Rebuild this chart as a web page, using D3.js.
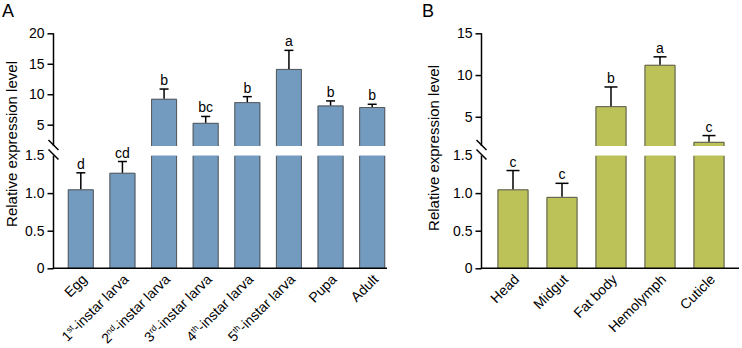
<!DOCTYPE html>
<html><head><meta charset="utf-8">
<script src="https://cdn.jsdelivr.net/npm/d3@7"></script>
<style>body{margin:0;background:#fff}svg{display:block}text{font-family:Arial,"Liberation Sans",sans-serif;fill:#000}</style>
</head><body>
<svg id="c" width="742" height="348"></svg>
<script>
// ---- data ----
const catsA = ["Egg","1st-instar larva","2nd-instar larva","3rd-instar larva","4th-instar larva","5th-instar larva","Pupa","Adult"];
const meanA = [1.05, 1.27, 9.25, 5.3, 8.7, 14.15, 8.15, 7.9];
const errA  = [0.22, 0.15, 1.6, 1.05, 0.9, 3.05, 0.75, 0.45];
const sigA  = ["d","cd","b","bc","b","a","b","b"];
const catsB = ["Head","Midgut","Fat body","Hemolymph","Cuticle"];
const meanB = [1.05, 0.95, 6.27, 11.23, 2.0];
const errB  = [0.25, 0.18, 2.3, 0.95, 0.75];
const sigB  = ["c","c","b","a","c"];
const lowTicks = [0, 0.5, 1.0, 1.5];
const upTicksA = [5, 10, 15, 20];
const upTicksB = [5, 10, 15];
const breakAt = 1.5;
const yTitle = "Relative expression level";

const svg = d3.select("#c");

function panel(o){
  const g = svg.append("g");
  const yLow = d3.scaleLinear().domain([0, breakAt]).range([268.3, 155.5]);
  const yUp = d3.scaleLinear().domain([breakAt, o.max]).range([146, 33.3]);
  const x = d3.scaleBand().domain(o.cats).range(o.xr).paddingInner(o.pi).paddingOuter(o.pi/2);
  const bw = x.bandwidth();
  o.cats.forEach((c,i)=>{
    const v = o.mean[i], x0 = x(c);
    const segs = [];
    segs.push({y0: yLow(0), y1: yLow(Math.min(v, breakAt)), top: v <= breakAt});
    if (v > breakAt) segs.push({y0: yUp(breakAt), y1: yUp(v), top: true});
    segs.forEach(s=>{
      g.append("rect").attr("x", x0).attr("y", s.y1).attr("width", bw).attr("height", s.y0 - s.y1).attr("fill", o.fill);
      const p = d3.path();
      p.moveTo(x0+0.5, s.y0); p.lineTo(x0+0.5, s.y1+0.5);
      if (s.top) p.lineTo(x0+bw-0.5, s.y1+0.5); else p.moveTo(x0+bw-0.5, s.y1+0.5);
      p.lineTo(x0+bw-0.5, s.y0);
      g.append("path").attr("d", p.toString()).attr("fill","none").attr("stroke","#5a5a5a").attr("stroke-width",1);
    });
    const top = v + o.err[i];
    const ys = v > breakAt ? yUp : yLow;
    const cx = x0 + bw/2;
    g.append("line").attr("x1",cx).attr("x2",cx).attr("y1",ys(v)).attr("y2",ys(top)).attr("stroke","#000").attr("stroke-width",1.5);
    g.append("line").attr("x1",cx-o.cap/2).attr("x2",cx+o.cap/2).attr("y1",ys(top)).attr("y2",ys(top)).attr("stroke","#000").attr("stroke-width",1.5);
    g.append("text").attr("x",cx).attr("y",ys(top)-4).attr("text-anchor","middle").attr("font-size",14).text(o.sig[i]);
    const t = g.append("text").attr("font-size",14).attr("text-anchor","end")
      .attr("transform",`translate(${cx+7},${yLow(0)+12}) rotate(-45)`);
    const m = c.match(/^(\d)(st|nd|rd|th)(.*)$/);
    if (m){
      t.append("tspan").text(m[1]);
      t.append("tspan").attr("font-size",8.5).attr("dy",-5).text(m[2]);
      t.append("tspan").attr("dy",5).text(m[3]);
    } else t.text(c);
  });
  const axL = g.append("g").attr("transform",`translate(${o.ax},0)`)
    .call(d3.axisLeft(yLow).tickValues(lowTicks).tickSize(6).tickPadding(3).tickFormat(d=> d===0?"0":d3.format(".1f")(d)));
  const axU = g.append("g").attr("transform",`translate(${o.ax},0)`)
    .call(d3.axisLeft(yUp).tickValues(o.upTicks).tickSize(6).tickPadding(3).tickFormat(d3.format("d")));
  [axL, axU].forEach(a=>{
    a.select(".domain").remove();
    a.selectAll("line").attr("stroke","#000").attr("stroke-width",1.5);
    a.selectAll("text").attr("font-size",14).attr("font-family",'Arial,"Liberation Sans",sans-serif').attr("fill","#000");
  });
  axL.selectAll(".tick").filter(d=>d===breakAt).select("line").remove();
  g.append("line").attr("x1",o.ax).attr("x2",o.ax).attr("y1",yUp(o.max)).attr("y2",yUp(breakAt)).attr("stroke","#000").attr("stroke-width",1.5);
  g.append("line").attr("x1",o.ax).attr("x2",o.ax).attr("y1",yLow(breakAt)).attr("y2",yLow(0)+0.75).attr("stroke","#000").attr("stroke-width",1.5);
  g.append("line").attr("x1",o.ax-0.75).attr("x2",o.xEnd).attr("y1",yLow(0)).attr("y2",yLow(0)).attr("stroke","#000").attr("stroke-width",1.5);
  [yUp(breakAt)-2, yLow(breakAt)-2].forEach(yy=>{
    g.append("line").attr("x1",o.ax-5).attr("x2",o.ax+5).attr("y1",yy-4).attr("y2",yy+6).attr("stroke","#000").attr("stroke-width",1.5);
  });
  g.append("text").attr("font-size",15).attr("text-anchor","middle")
    .attr("transform",`translate(${o.tx},${o.ty}) rotate(-90)`).text(yTitle);
  g.append("text").attr("x",o.lx).attr("y",17).attr("font-size",18).text(o.letter);
}

panel({cats:catsA, mean:meanA, err:errA, sig:sigA, max:20, upTicks:upTicksA, xr:[60,393], pi:0.375,
  ax:53.5, xEnd:387, fill:"#739abf", cap:9, tx:17, ty:144, lx:2, letter:"A"});
panel({cats:catsB, mean:meanB, err:errB, sig:sigB, max:15, upTicks:upTicksB, xr:[488.5,733.5], pi:0.366,
  ax:481.5, xEnd:739, fill:"#bcc257", cap:13, tx:439, ty:148, lx:422, letter:"B"});
</script>
</body></html>
